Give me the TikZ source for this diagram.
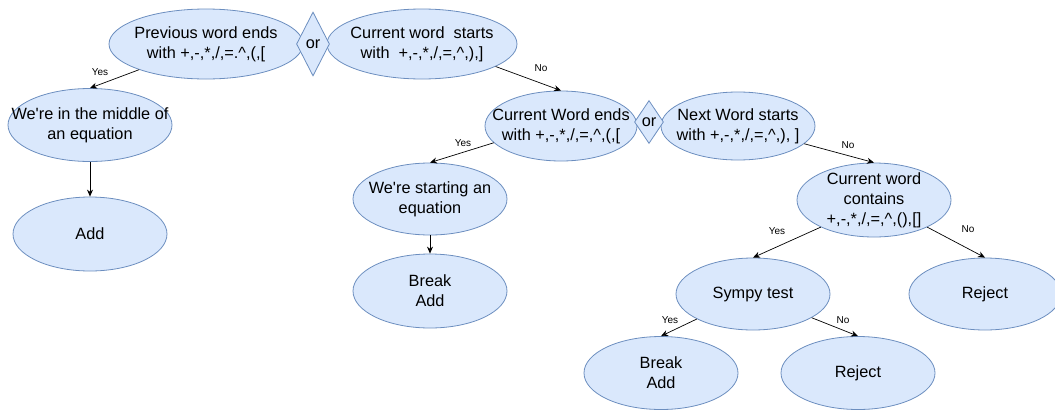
\documentclass[tikz,border=0pt]{standalone}
\usepackage{fontspec}
\setmainfont{Liberation Sans}
\usetikzlibrary{shapes.geometric,arrows.meta}
\definecolor{fillb}{HTML}{DAE8FC}
\definecolor{strokeb}{HTML}{6C8EBF}
\begin{document}
\begin{tikzpicture}[x=1pt,y=-1pt,
  ell/.style={ellipse, draw=strokeb, fill=fillb, line width=0.8pt,
    inner xsep=-70pt, inner ysep=-45pt, align=center,
    font=\fontsize{16.3}{20}\selectfont},
  dia/.style={diamond, draw=strokeb, fill=fillb, line width=0.8pt,
    inner sep=-20pt, font=\fontsize{16.3}{20}\selectfont},
  conn/.style={draw, line width=0.7pt, -{Stealth[length=7pt,width=6pt]}},
  lbl/.style={font=\fontsize{10}{12}\selectfont, inner sep=0pt}]
\useasboundingbox (0,0) rectangle (1055,410);
% shapes
\node[ell, minimum width=194pt, minimum height=70pt] (pw) at (206,44) {Previous word ends\\with +,-,*,/,=.\textasciicircum,(,[};
\node[ell, minimum width=190pt, minimum height=70pt] (cs) at (422,44) {Current word\ \ starts\\with\ \ +,-,*,/,=,\textasciicircum,),]};
\node[dia, minimum width=33pt, minimum height=64pt] (or1) at (313,44) {or};
\node[ell, minimum width=164pt, minimum height=73pt] (mid) at (90,125) {We\textquotesingle re in the middle of\\an equation};
\node[ell, minimum width=154pt, minimum height=74pt] (add1) at (90,234) {Add};
\node[ell, minimum width=152pt, minimum height=70pt] (cw) at (561,126) {Current Word ends\\with +,-,*,/,=,\textasciicircum,(,[};
\node[ell, minimum width=154pt, minimum height=68pt] (nw) at (738,126) {Next Word starts\\with +,-,*,/,=,\textasciicircum,), ]};
\node[dia, minimum width=29pt, minimum height=43pt] (or2) at (649,122) {or};
\node[ell, minimum width=154pt, minimum height=72pt] (ws) at (430,199) {We\textquotesingle re starting an\\equation};
\node[ell, minimum width=154pt, minimum height=74pt] (ba1) at (430,291) {Break\\Add};
\node[ell, minimum width=154pt, minimum height=74pt] (cc) at (874,200) {Current word\\contains\\+,-,*,/,=,\textasciicircum,(),[]};
\node[ell, minimum width=154pt, minimum height=72pt] (sy) at (753,294) {Sympy test};
\node[ell, minimum width=152pt, minimum height=72pt] (rj1) at (985,294) {Reject};
\node[ell, minimum width=154pt, minimum height=73pt] (ba2) at (661,373) {Break\\Add};
\node[ell, minimum width=154pt, minimum height=73pt] (rj2) at (858,373) {Reject};
% connectors
\draw[conn] (pw.201) -- (mid.north);
\draw[conn] (mid.south) -- (add1.north);
\draw[conn] (cs.343) -- (cw.north);
\draw[conn] (cw.194) -- (ws.north);
\draw[conn] (ws.south) -- (ba1.north);
\draw[conn] (nw.345) -- (cc.north);
\draw[conn] (cc.207) -- (sy.north);
\draw[conn] (cc.333) -- (rj1.north);
\draw[conn] (sy.204) -- (ba2.north);
\draw[conn] (sy.338) -- (rj2.north);
% labels
\node[lbl] (y1) at (100,72) {Yes};
\node[lbl] (n1) at (541,68) {No};
\node[lbl] (y2) at (463,143) {Yes};
\node[lbl] (n2) at (848,145) {No};
\node[lbl] (y3) at (777,231) {Yes};
\node[lbl] (n3) at (968,229) {No};
\node[lbl] (y4) at (670,320) {Yes};
\node[lbl] (n4) at (843,320) {No};
\end{tikzpicture}
\end{document}
